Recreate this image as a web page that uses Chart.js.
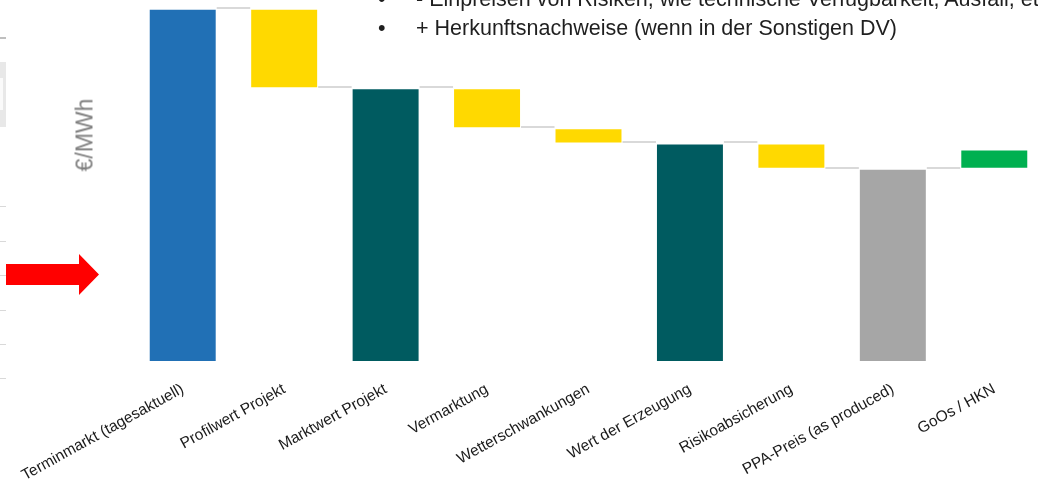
<!DOCTYPE html>
<html lang="de">
<head>
<meta charset="utf-8">
<title>Vom Terminmarkt zum PPA-Preis</title>
<script src="https://cdn.jsdelivr.net/npm/chart.js"></script>
<style>
  html, body { margin: 0; padding: 0; overflow: hidden; background: #fff; }
  body { width: 1038px; height: 487px; position: relative; font-family: "Liberation Sans", Arial, sans-serif; }
  #chartWrap { position: absolute; left: 0; top: 0; width: 1045px; height: 487px; }
  .bullets { position: absolute; left: 0; top: 0; font-size: 21.5px; line-height: 21px; color: #1f1f1f; white-space: nowrap; }
  .bullets span { position: absolute; }
  .unit { position: absolute; left: 85px; top: 135px; transform: translate(-50%, -50%) rotate(-90deg);
          font-size: 23px; color: #7f7f7f; white-space: nowrap; }
  .edge { position: absolute; left: 0; width: 6px; background: #d9d9d9; }
  #arrow { position: absolute; left: 0; top: 0; }
</style>
</head>
<body>
<div id="chartWrap"><canvas id="waterfallChart" width="1045" height="487"></canvas></div>

<div class="bullets">
  <span style="left:378px; top:-11px">•</span>
  <span style="left:416px; top:-11px">- Einpreisen von Risiken, wie technische Verfügbarkeit, Ausfall, etc.</span>
  <span style="left:378px; top:18px">•</span>
  <span style="left:416px; top:18px">+ Herkunftsnachweise (wenn in der Sonstigen DV)</span>
</div>

<div class="unit">€/MWh</div>

<!-- leftover marks at the left edge of the slide -->
<div class="edge" style="top:37px; height:2px; background:#bfbfbf"></div>
<div class="edge" style="top:62px; height:65px; background:#e8e8e8"></div>
<div class="edge" style="top:78px; height:32px; width:3px; background:#fafafa"></div>
<div class="edge" style="top:206px; height:1px"></div>
<div class="edge" style="top:241px; height:1px"></div>
<div class="edge" style="top:275px; height:1px"></div>
<div class="edge" style="top:310px; height:1px"></div>
<div class="edge" style="top:344px; height:1px"></div>
<div class="edge" style="top:378px; height:1px"></div>

<svg id="arrow" width="110" height="320">
  <polygon points="6,264 79,264 79,254 99,274.5 79,295 79,285 6,285" fill="#ff0000"/>
</svg>

<script>
// Waterfall steps from forward market price down to the PPA price
const categories = [
  'Terminmarkt (tagesaktuell)',
  'Profilwert Projekt',
  'Marktwert Projekt',
  'Vermarktung',
  'Wetterschwankungen',
  'Wert der Erzeugung',
  'Risikoabsicherung',
  'PPA-Preis (as produced)',
  'GoOs / HKN'
];
// 'total' bars start at zero, 'delta' bars float from the previous level
const stepKinds = ['total', 'delta', 'total', 'delta', 'delta', 'total', 'delta', 'total', 'delta'];
const stepValues = [100, -22.5, 77.5, -11.3, -4.3, 61.9, -7.2, 54.7, 5.5];
const barColors = ['#2170b5', '#ffd900', '#005b60', '#ffd900', '#ffd900', '#005b60', '#ffd900', '#a6a6a6', '#00b050'];
const yMax = 102.5;

// Turn steps into floating [from, to] ranges and remember the level after each bar
const levels = [];
const ranges = [];
let level = 0;
stepValues.forEach((v, i) => {
  if (stepKinds[i] === 'total') {
    level = v;
    ranges.push([0, v]);
  } else {
    const from = level;
    level += v;
    ranges.push([from, level]);
  }
  levels.push(level);
});

// Grey connector lines between neighbouring bars
const connectorPlugin = {
  id: 'connectors',
  beforeDatasetsDraw(chart) {
    const meta = chart.getDatasetMeta(0);
    const yScale = chart.scales.y;
    const ctx = chart.ctx;
    ctx.save();
    ctx.strokeStyle = '#d9d9d9';
    ctx.lineWidth = 2;
    for (let i = 0; i < meta.data.length - 1; i++) {
      const a = meta.data[i];
      const b = meta.data[i + 1];
      const py = Math.round(yScale.getPixelForValue(levels[i])) - 1;
      ctx.beginPath();
      ctx.moveTo(a.x + a.width / 2, py);
      ctx.lineTo(b.x - b.width / 2, py);
      ctx.stroke();
    }
    ctx.restore();
  }
};

function initChart() {
  const ctx = document.getElementById('waterfallChart').getContext('2d');
  new Chart(ctx, {
    type: 'bar',
    data: {
      labels: categories,
      datasets: [{
        data: ranges,
        backgroundColor: barColors,
        borderColor: 'rgba(255,255,255,0.3)',
        borderWidth: 1,
        borderSkipped: false,
        categoryPercentage: 1,
        barPercentage: 0.67
      }]
    },
    options: {
      responsive: false,
      animation: false,
      layout: { padding: 0 },
      plugins: { legend: { display: false }, tooltip: { enabled: false } },
      scales: {
        x: {
          grid: { display: false, drawTicks: false },
          border: { display: false },
          ticks: {
            color: '#1a1a1a',
            font: { family: '"Liberation Sans", Arial, sans-serif', size: 15.5 },
            minRotation: 29,
            maxRotation: 29,
            autoSkip: false,
            padding: 18
          },
          afterFit(scale) {
            // fixed axis height; long rotated labels may run past the left edge
            scale.height = 125;
            scale.paddingLeft = 0;
            scale.paddingRight = 0;
          }
        },
        y: {
          min: 0,
          max: yMax,
          grid: { display: false, drawTicks: false },
          border: { display: false },
          ticks: { display: false },
          afterFit(scale) { scale.width = 132; }
        }
      }
    },
    plugins: [connectorPlugin]
  });
}

window.addEventListener('DOMContentLoaded', initChart);
</script>
</body>
</html>
